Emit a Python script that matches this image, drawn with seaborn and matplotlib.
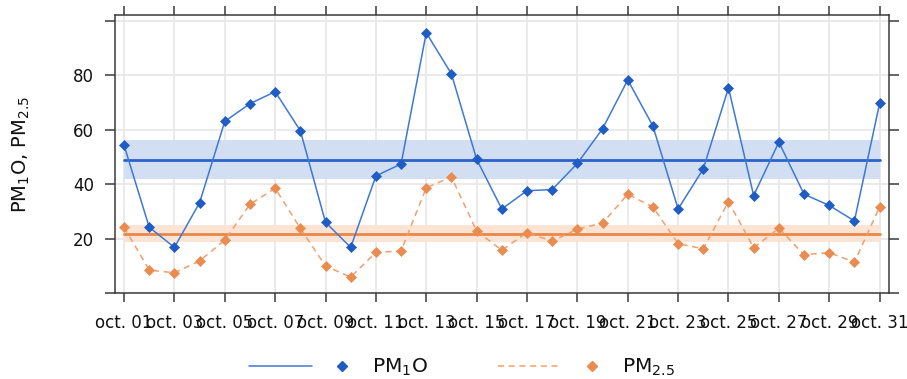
import numpy as np
import pandas as pd
import matplotlib
matplotlib.use("Agg")
import matplotlib.pyplot as plt
import matplotlib.dates as mdates
from matplotlib.lines import Line2D
import seaborn as sns

# ---- data ----
days = pd.date_range("2023-10-01", "2023-10-31", freq="D")
pm10 = [54.4, 24.3, 16.9, 33.3, 63.1, 69.6, 74.0, 59.7, 26.1, 16.9, 43.1,
        47.5, 95.6, 80.5, 49.2, 31.0, 37.7, 38.1, 47.7, 60.4, 78.3, 61.4,
        31.0, 45.7, 75.4, 35.9, 55.5, 36.4, 32.3, 26.6, 69.7]
pm25 = [24.3, 8.6, 7.6, 11.9, 19.6, 32.7, 38.6, 23.9, 10.1, 6.0, 15.1,
        15.6, 38.8, 42.7, 22.9, 15.9, 22.3, 19.2, 23.6, 25.8, 36.4, 31.7,
        18.3, 16.4, 33.7, 16.8, 23.9, 14.2, 15.0, 11.5, 31.7]
pm10_ci = [42.0, 56.2]   # confidence band of the mean
pm25_ci = [18.7, 25.2]
series_labels = [r"PM$_1$O", r"PM$_{2.5}$"]
ylabel = r"PM$_1$O, PM$_{2.5}$"
tick_days = days[::2]

df = pd.DataFrame({"date": days, "pm10": pm10, "pm25": pm25})

sns.set_style("white")
plt.rcParams["font.family"] = ["DejaVu Sans"]

blue_line = "#3f78d4"
blue_mark = "#1f5cc4"
blue_mean = "#2a63c8"
blue_band = "#d2dff3"
or_line = "#f0a070"
or_mark = "#ea8c4f"
or_mean = "#ea8748"
or_band = "#fbe4d3"
spine_c = "#3a3a3a"

fig = plt.figure(figsize=(9.07, 3.79), dpi=100)
ax = fig.add_axes([0.1268, 0.2256, 0.8534, 0.734])

# mean lines with bands
x0, x1 = days[0], days[-1]
ax.fill_between([x0, x1], pm10_ci[0], pm10_ci[1], color=blue_band, lw=0, zorder=1)
ax.fill_between([x0, x1], pm25_ci[0], pm25_ci[1], color=or_band, lw=0, zorder=1)
ax.plot([x0, x1], [np.mean(pm10)] * 2, color=blue_mean, lw=2.0, zorder=2)
ax.plot([x0, x1], [np.mean(pm25)] * 2, color=or_mean, lw=2.0, zorder=2)

sns.lineplot(data=df, x="date", y="pm10", ax=ax, color=blue_line, lw=1.1,
             marker="D", markersize=5, markerfacecolor=blue_mark,
             markeredgecolor=blue_mark, markeredgewidth=0.5, zorder=3)
sns.lineplot(data=df, x="date", y="pm25", ax=ax, color=or_line, lw=1.1,
             marker="D", markersize=5, markerfacecolor=or_mark,
             markeredgecolor=or_mark, markeredgewidth=0.5, zorder=3,
             dashes=False, linestyle=(0, (4, 3)))

ax.set_xlim(days[0] - pd.Timedelta(hours=8.6), days[-1] + pd.Timedelta(hours=9))
ax.set_ylim(0, 102)
ax.set_xticks(tick_days)
ax.xaxis.set_major_formatter(mdates.DateFormatter("oct. %d"))
ax.set_yticks([0, 20, 40, 60, 80, 100])
ax.set_yticklabels(["", "20", "40", "60", "80", ""])

ax.grid(True, color="#e8e8e8", lw=1.3)
ax.set_axisbelow(True)
for s in ax.spines.values():
    s.set_visible(True)
    s.set_color(spine_c)
    s.set_linewidth(1.1)

ax.tick_params(axis="x", which="both", direction="out", length=6.5, width=1.1,
               color=spine_c, top=True, bottom=True, labelsize=12,
               labelcolor="#111111", pad=8)
ax.tick_params(axis="y", which="both", direction="out", length=7, width=1.1,
               color=spine_c, left=True, right=True, labelsize=12,
               labelcolor="#111111", pad=8)
ax.set_xlabel("")
ax.set_ylabel(ylabel, fontsize=14, color="#111111", labelpad=10)
ax.yaxis.set_label_coords(-0.107, 0.5)

# legend (lattice-style key below the panel)
W, H = 907, 379
def fx(px):
    return px / W
def fy(py):
    return 1 - py / H

ly = 366
fig.add_artist(Line2D([fx(249), fx(312)], [fy(ly)] * 2, color=blue_line, lw=1.1))
fig.add_artist(Line2D([fx(342)], [fy(ly)], marker="D", markersize=5,
                      color=blue_mark, lw=0))
fig.text(fx(372), fy(ly + 1), series_labels[0], fontsize=14.5, va="center",
         ha="left", color="#111111")
fig.add_artist(Line2D([fx(498), fx(559)], [fy(ly)] * 2, color=or_line, lw=1.1,
                      linestyle=(0, (4, 3))))
fig.add_artist(Line2D([fx(592)], [fy(ly)], marker="D", markersize=5,
                      color=or_mark, lw=0))
fig.text(fx(622), fy(ly + 1), series_labels[1], fontsize=14.5, va="center",
         ha="left", color="#111111")

fig.savefig("out.png", dpi=100)
